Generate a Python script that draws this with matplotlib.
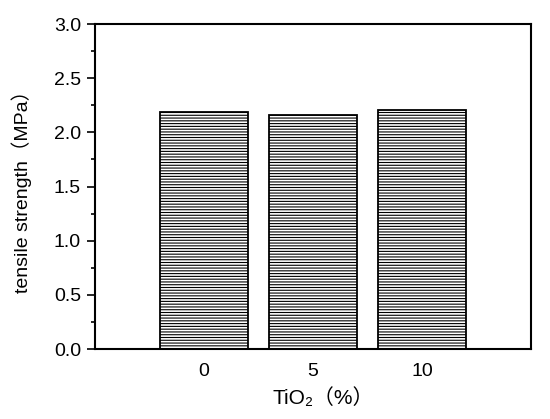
import matplotlib
matplotlib.use("Agg")
import matplotlib.pyplot as plt
from matplotlib.ticker import MultipleLocator, FormatStrFormatter

plt.rcParams['font.family'] = ['Liberation Sans', 'Noto Sans CJK SC', 'DejaVu Sans']
plt.rcParams['hatch.linewidth'] = 0.8
plt.rcParams['hatch.color'] = '#555555'

# data
categories = ["0", "5", "10"]
strength = [2.19, 2.16, 2.21]

fig = plt.figure(figsize=(5.5, 4.19), dpi=100)
ax = fig.add_axes([95/550, 1 - 349/419, (531-95)/550, (349-24)/419])

x = list(range(len(categories)))
ax.bar(x, strength, width=0.8, color='white', edgecolor='black',
       linewidth=1.3, hatch='------')

ax.set_xlim(-1.0, 3.0)
ax.set_ylim(0, 3.0)
ax.set_xticks(x)
ax.set_xticklabels(categories)
ax.tick_params(axis='x', length=0, labelsize=14, pad=10)
ax.yaxis.set_major_locator(MultipleLocator(0.5))
ax.yaxis.set_minor_locator(MultipleLocator(0.25))
ax.yaxis.set_major_formatter(FormatStrFormatter('%.1f'))
ax.tick_params(axis='y', which='major', direction='out', length=6, width=1.2,
               labelsize=14, pad=4)
ax.tick_params(axis='y', which='minor', direction='out', length=3, width=1.2)
for s in ax.spines.values():
    s.set_linewidth(1.5)

ax.set_xlabel("TiO\u2082（%）", fontsize=15)
ax.xaxis.set_label_coords(0.523, -0.12)
ax.set_ylabel("tensile strength（MPa）", fontsize=14, labelpad=16)

fig.savefig("out.png", dpi=100)
